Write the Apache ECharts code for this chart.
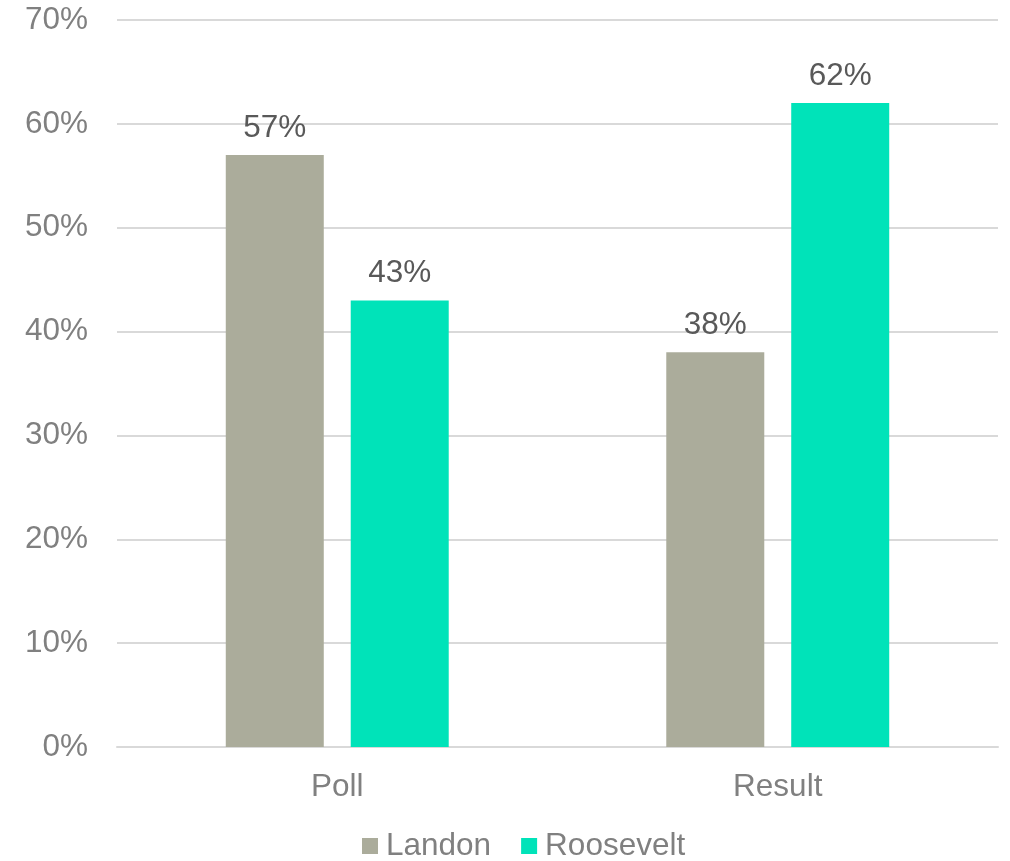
<!DOCTYPE html>
<html><head><meta charset="utf-8">
<script src="https://cdn.jsdelivr.net/npm/echarts@6/dist/echarts.min.js"></script>
<style>html,body{margin:0;padding:0;background:#fff}#c{width:1010px;height:861px}</style>
</head><body><div id="c"></div>
<script>
const categories = ['Poll', 'Result'];
const landon = [57, 38];
const roosevelt = [43, 62];
const yTicks = [0, 10, 20, 30, 40, 50, 60, 70];

const chart = echarts.init(document.getElementById('c'), null, {renderer: 'canvas'});
const font = 'Liberation Sans, Arial, sans-serif';
const fs = 31.5;
const label = {show: true, position: 'top', distance: 11, formatter: p => p.value + '%', color: '#595959', fontSize: fs, fontFamily: font};
chart.setOption({
  animation: false,
  grid: {left: 117, right: 12, top: 20, bottom: 114, containLabel: false},
  legend: {
    top: 830, left: 362, itemWidth: 16, itemHeight: 16, itemGap: 30,
    padding: 0,
    icon: 'rect',
    textStyle: {color: '#808080', fontSize: fs, fontFamily: font, padding: [0, 0, 0, 3]},
    data: ['Landon', 'Roosevelt']
  },
  xAxis: {
    type: 'category', data: categories,
    axisLine: {lineStyle: {color: '#d9d9d9', width: 2}},
    axisTick: {show: false},
    axisLabel: {color: '#808080', fontSize: fs, fontFamily: font, margin: 24}
  },
  yAxis: {
    type: 'value', min: yTicks[0], max: yTicks[yTicks.length - 1], interval: 10,
    axisLine: {show: false}, axisTick: {show: false},
    splitLine: {lineStyle: {color: '#d9d9d9', width: 2}},
    axisLabel: {color: '#808080', fontSize: fs, fontFamily: font, margin: 29, formatter: v => v + '%'}
  },
  series: [
    {name: 'Landon', type: 'bar', data: landon, barWidth: 98, barGap: '27.5%', itemStyle: {color: '#ABAC9B'}, label},
    {name: 'Roosevelt', type: 'bar', data: roosevelt, barWidth: 98, barGap: '27.5%', itemStyle: {color: '#00E3B9'}, label}
  ]
});
</script></body></html>
